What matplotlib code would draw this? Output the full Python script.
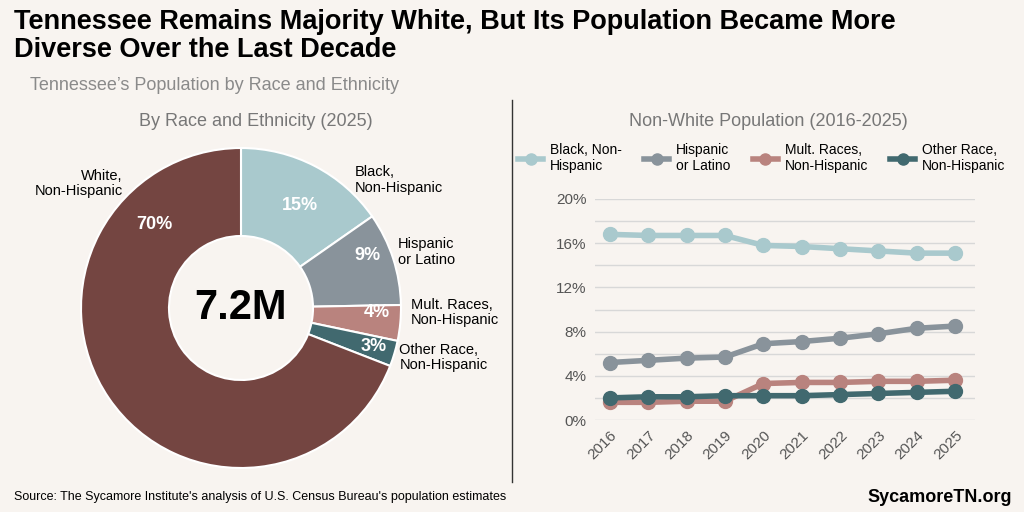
import matplotlib
matplotlib.use("Agg")
import matplotlib.pyplot as plt
from matplotlib.lines import Line2D
import numpy as np

plt.rcParams['font.family'] = ['Liberation Sans', 'DejaVu Sans']

bg = "#F8F4F0"
slice_labels = ["Black,\nNon-Hispanic", "Hispanic\nor Latino", "Mult. Races,\nNon-Hispanic", "Other Race,\nNon-Hispanic", "White,\nNon-Hispanic"]
slice_values = [15.3, 9.4, 3.6, 2.6, 69.1]
slice_pct = ["15%", "9%", "4%", "3%", "70%"]
colors = ["#A9C9CD", "#89939B", "#B9837E", "#41696F", "#744541"]

years = list(range(2016, 2026))
black = [16.8, 16.7, 16.7, 16.7, 15.8, 15.7, 15.5, 15.3, 15.1, 15.1]
hisp = [5.2, 5.4, 5.6, 5.7, 6.9, 7.1, 7.4, 7.8, 8.3, 8.5]
mult = [1.6, 1.6, 1.7, 1.7, 3.3, 3.4, 3.4, 3.5, 3.5, 3.6]
other = [2.0, 2.1, 2.1, 2.2, 2.2, 2.2, 2.3, 2.4, 2.5, 2.6]
series = [("Black, Non-\nHispanic", black, colors[0]), ("Hispanic\nor Latino", hisp, colors[1]),
          ("Mult. Races,\nNon-Hispanic", mult, colors[2]), ("Other Race,\nNon-Hispanic", other, colors[3])]

fig = plt.figure(figsize=(10.24, 5.12), dpi=100, facecolor=bg)
W, H = 1024, 512

fig.text(14/W, 1-36/H, "Tennessee Remains Majority White, But Its Population Became More\nDiverse Over the Last Decade",
         fontsize=19.5, fontweight='bold', va='center', ha='left', linespacing=1.1)
fig.text(30/W, 1-86/H, "Tennessee’s Population by Race and Ethnicity", fontsize=13, color="#8a8a8a", va='center')
fig.text(256/W, 1-122/H, "By Race and Ethnicity (2025)", fontsize=13, color="#777777", ha='center', va='center')
fig.text(768/W, 1-122/H, "Non-White Population (2016-2025)", fontsize=13, color="#777777", ha='center', va='center')
fig.text(14/W, 1-497/H, "Source: The Sycamore Institute's analysis of U.S. Census Bureau's population estimates", fontsize=9, va='center')
fig.text(1012/W, 1-497/H, "SycamoreTN.org", fontsize=13, fontweight='bold', ha='right', va='center')
fig.add_artist(Line2D([512/W, 512/W], [1-100/H, 1-482/H], color="#333333", lw=1))

axp = fig.add_axes([81/W, 1-468/H, 320/W, 320/H])
axp.set_facecolor(bg)
wedges, _ = axp.pie(slice_values, colors=colors, startangle=90, counterclock=False,
                    wedgeprops=dict(width=0.55, edgecolor='white', linewidth=1.5))
pct_pos = [(0.37, 0.64), (0.79, 0.33), (0.85, -0.03), (0.83, -0.24), (-0.54, 0.52)]
lab_pos = [(0.71, 0.80), (0.98, 0.35), (1.06, -0.03), (0.99, -0.31), (-0.74, 0.78)]
for i, w in enumerate(wedges):
    axp.text(*pct_pos[i], slice_pct[i], color='white', fontsize=13, fontweight='bold', ha='center', va='center')
    axp.text(*lab_pos[i], slice_labels[i], fontsize=10.5, ha='left' if i < 4 else 'right', va='center',
             multialignment='left' if i < 4 else 'right', linespacing=1.1)
axp.text(0, 0, "7.2M", fontsize=30, fontweight='bold', ha='center', va='center')
axp.set_xlim(-1, 1); axp.set_ylim(-1, 1)
axp.set_aspect('equal')

ax = fig.add_axes([595/W, 1-420/H, 380/W, 221/H])
ax.set_facecolor(bg)
handles = []
for lab, vals, c in series:
    ax.plot(years, vals, color=c, lw=4, marker='o', ms=10, solid_capstyle='round', zorder=3)
    handles.append(Line2D([0, 1], [0, 1], color=c, lw=4, marker='o', ms=8))
ax.set_ylim(0, 20)
ax.set_xlim(2015.61, 2025.52)
ax.set_yticks([0, 4, 8, 12, 16, 20])
ax.set_yticklabels(["0%", "4%", "8%", "12%", "16%", "20%"])
ax.set_yticks([2, 6, 10, 14, 18], minor=True)
ax.grid(axis='y', which='both', color="#d8d8d8", lw=1, zorder=0)
ax.set_xticks(years)
ax.set_xticklabels([str(y) for y in years], rotation=45, ha='right', rotation_mode='anchor')
ax.tick_params(axis='both', which='both', length=0, labelsize=11, colors="#555555", pad=6)
for s in ax.spines.values():
    s.set_visible(False)

fig.legend(handles, [s[0] for s in series], ncol=4, loc='center', bbox_to_anchor=(762/W, 1-158/H),
           frameon=False, fontsize=10, handlelength=1.8, columnspacing=1.6, handletextpad=0.5)

fig.savefig("out.png", dpi=100, facecolor=bg)
